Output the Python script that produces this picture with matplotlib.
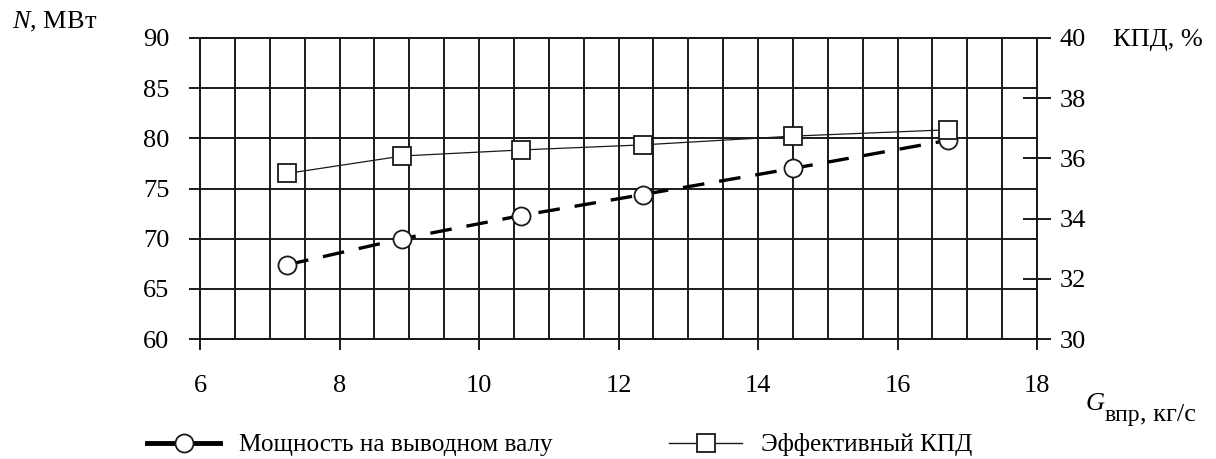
import matplotlib
matplotlib.use("Agg")
import matplotlib.pyplot as plt
from matplotlib.lines import Line2D
import numpy as np

plt.rcParams['font.family'] = ['Liberation Serif', 'DejaVu Serif']
plt.rcParams['mathtext.fontset'] = 'custom'
plt.rcParams['mathtext.rm'] = 'Liberation Serif'
plt.rcParams['mathtext.it'] = 'Liberation Serif:italic'
plt.rcParams['font.size'] = 19

# data
g_flow = [7.25, 8.9, 10.6, 12.35, 14.5, 16.72]
power = [67.4, 70.0, 72.3, 74.4, 77.0, 79.8]
eff = [35.5, 36.08, 36.28, 36.45, 36.74, 36.95]

x_ticks = [6, 8, 10, 12, 14, 16, 18]
left_ticks = [60, 65, 70, 75, 80, 85, 90]
right_ticks = [30, 32, 34, 36, 38, 40]

power_label = "Мощность на выводном валу"
eff_label = "Эффективный КПД"

ink = '#1a1a1a'

fig = plt.figure(figsize=(12.16, 4.59), dpi=100)
ax = fig.add_axes([200 / 1216, 1 - 339 / 459, 837 / 1216, 301 / 459])
ax2 = ax.twinx()

ax.set_xlim(6, 18)
ax.set_ylim(60, 90)
ax2.set_ylim(30, 40)

ax.set_xticks(x_ticks)
ax.set_xticks(np.arange(6, 18.01, 0.5), minor=True)
ax.set_yticks(left_ticks)
ax2.set_yticks(right_ticks)

ax.grid(True, which='both', axis='x', color=ink, linewidth=1.4)
ax.grid(True, which='major', axis='y', color=ink, linewidth=1.4)
ax.set_axisbelow(True)

for a in (ax, ax2):
    for s in a.spines.values():
        s.set_color(ink)
        s.set_linewidth(1.4)

ax.tick_params(axis='x', which='major', direction='out', length=8, width=1.4,
               color=ink, pad=18)
ax.tick_params(axis='x', which='minor', length=0)
ax.tick_params(axis='y', direction='out', length=8, width=1.4, color=ink, pad=14)
ax2.tick_params(axis='y', direction='inout', length=20, width=1.4, color=ink, pad=6)

ax.plot(g_flow, power, color='black', linewidth=2.4, dashes=(6.5, 4.5),
        marker='o', markersize=13, markerfacecolor='white',
        markeredgecolor=ink, markeredgewidth=1.3, zorder=3)
ax2.plot(g_flow, eff, color=ink, linewidth=0.9,
         marker='s', markersize=13, markerfacecolor='white',
         markeredgecolor=ink, markeredgewidth=1.3, zorder=3)

fig.text(12 / 1216, 1 - 22 / 459, "$N$, МВт", ha='left', va='center')
fig.text(1113 / 1216, 1 - 40 / 459, "КПД, %", ha='left', va='center')

# x-axis name: italic G, lowered subscript, then units
g_txt = fig.text(1086 / 1216, 1 - 410 / 459, "G", style='italic',
                 ha='left', va='baseline')
sub = fig.text(0, 0, "")
sub.remove()
sub = ax.annotate("впр", xy=(1, 0), xycoords=g_txt, xytext=(0, -4),
                  textcoords='offset points', fontsize=17,
                  ha='left', va='baseline', annotation_clip=False)
ax.annotate(", кг/с", xy=(1, 0), xycoords=sub, xytext=(0, 4),
            textcoords='offset points', ha='left', va='baseline',
            annotation_clip=False)

handles = [
    Line2D([], [], color='black', linewidth=3.5, marker='o', markersize=13,
           markerfacecolor='white', markeredgecolor=ink, markeredgewidth=1.3),
    Line2D([], [], color=ink, linewidth=1.0, marker='s', markersize=13,
           markerfacecolor='white', markeredgecolor=ink, markeredgewidth=1.3),
]
fig.legend(handles, [power_label, eff_label], loc='center left',
           bbox_to_anchor=(147 / 1216, 14 / 459), ncol=2, frameon=False,
           borderpad=0, borderaxespad=0, handlelength=2.9, handletextpad=0.75,
           columnspacing=4.6, prop={'size': 18.2})

fig.savefig("out.png", dpi=100)
